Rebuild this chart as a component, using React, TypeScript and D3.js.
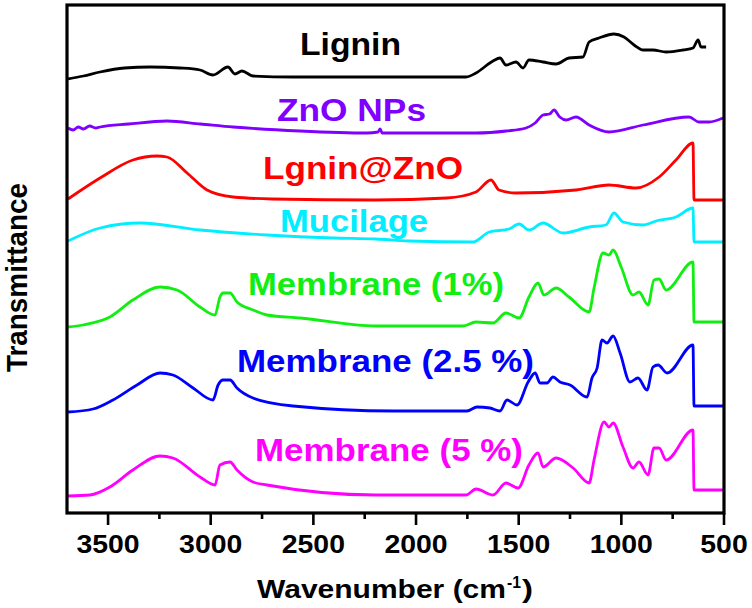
import React from "react";
import * as d3 from "d3";

type Pt = [number, number];

// Wavenumber (cm-1), transmittance (a.u., stacked)
const lignin: Pt[] = [
  [3695, 434], [3620, 437], [3539, 441], [3420, 445], [3296, 446], [3150, 445], [3052, 443], [2989, 438],
  [2916, 446], [2882, 439], [2848, 442], [2794, 437], [2600, 436], [2200, 436], [1756, 436],
  [1708, 440], [1625, 452], [1591, 455], [1562, 448], [1513, 451], [1479, 445], [1450, 453],
  [1381, 451], [1318, 449], [1255, 455], [1187, 456], [1157, 471], [1109, 475], [1036, 479],
  [987, 476], [938, 468], [894, 463], [846, 463], [782, 461], [699, 463], [651, 465], [626, 473],
  [612, 466], [587, 466],
];

const znoNPs: Pt[] = [
  [3695, 385], [3670, 383], [3645, 386], [3620, 384], [3590, 387], [3560, 385], [3539, 386],
  [3400, 389], [3213, 392], [3050, 389], [2891, 386], [2565, 382], [2239, 380], [2185, 381],
  [2175, 384], [2165, 380], [2034, 380], [1708, 380], [1560, 382], [1464, 385], [1420, 390],
  [1381, 398], [1350, 399], [1328, 403], [1300, 396], [1269, 393], [1221, 396], [1157, 388],
  [1060, 381], [894, 388], [670, 396], [622, 391], [573, 391], [505, 395],
];

const lgninZnO: Pt[] = [
  [3695, 314], [3539, 335], [3379, 353], [3262, 357], [3213, 356], [3115, 340], [3018, 323],
  [2891, 316], [2700, 314], [2200, 313], [1850, 315], [1708, 321], [1635, 333], [1596, 323],
  [1513, 320], [1221, 323], [1060, 328], [928, 325], [816, 336], [734, 353], [651, 370],
  [646, 313], [500, 313],
];

const mucilage: Pt[] = [
  [3695, 272], [3539, 285], [3344, 290], [3052, 283], [2726, 278], [2404, 275], [2195, 274],
  [2034, 272], [1722, 271], [1644, 281], [1547, 284], [1498, 289], [1450, 283], [1381, 290],
  [1284, 280], [1157, 286], [1075, 288], [1036, 300], [992, 291], [894, 288], [831, 292],
  [734, 296], [651, 305], [646, 271], [500, 271],
];

const membrane1: Pt[] = [
  [3695, 186], [3622, 188], [3491, 196], [3379, 213], [3247, 226], [3164, 223], [3052, 206],
  [2979, 198], [2955, 216], [2940, 220], [2906, 220], [2872, 211], [2794, 203], [2726, 198],
  [2565, 195], [2195, 187], [2034, 187], [1771, 187], [1708, 191], [1625, 190], [1562, 200],
  [1498, 195], [1450, 216], [1406, 230], [1377, 218], [1318, 225], [1255, 216], [1157, 201],
  [1133, 225], [1089, 260], [1060, 258], [1040, 263], [1001, 246], [943, 218], [914, 221],
  [870, 208], [841, 233], [816, 234], [782, 223], [651, 251], [646, 191], [500, 191],
];

const membrane25: Pt[] = [
  [3695, 101], [3573, 104], [3476, 113], [3359, 128], [3247, 140], [3184, 138], [3086, 125],
  [2989, 113], [2964, 128], [2940, 133], [2906, 133], [2872, 125], [2794, 115], [2599, 107],
  [2112, 102], [1752, 102], [1703, 106], [1640, 105], [1591, 102], [1557, 113], [1508, 108],
  [1454, 131], [1420, 140], [1396, 130], [1362, 130], [1333, 136], [1299, 131], [1250, 128],
  [1167, 116], [1143, 135], [1118, 145], [1094, 173], [1070, 170], [1040, 177], [1006, 160],
  [958, 131], [919, 135], [875, 123], [846, 146], [821, 148], [777, 140], [651, 168],
  [646, 107], [500, 107],
];

const membrane5: Pt[] = [
  [3695, 17], [3588, 18], [3491, 26], [3379, 43], [3247, 57], [3184, 55], [3052, 36],
  [2979, 28], [2955, 48], [2906, 51], [2872, 43], [2794, 31], [2726, 28], [2195, 18],
  [1756, 18], [1708, 24], [1625, 18], [1562, 30], [1503, 25], [1450, 48], [1406, 60],
  [1381, 46], [1318, 55], [1235, 45], [1157, 30], [1133, 53], [1084, 91], [1060, 86],
  [1040, 90], [992, 66], [943, 45], [914, 51], [870, 38], [841, 65], [816, 65], [782, 53],
  [651, 83], [646, 23], [500, 23],
];

const seriesNames = ["Lignin", "ZnO NPs", "Lgnin@ZnO", "Mucilage", "Membrane (1%)", "Membrane (2.5 %)", "Membrane (5 %)"];
const seriesData = [lignin, znoNPs, lgninZnO, mucilage, membrane1, membrane25, membrane5];
const seriesColors = ["#000000", "#8000ff", "#ff0000", "#00eeff", "#11ee11", "#0000ff", "#ff00ff"];

const majorTicks = [3500, 3000, 2500, 2000, 1500, 1000, 500];
const minorTicks = [3250, 2750, 2250, 1750, 1250, 750];

// label placement: [x start, baseline, width]
const labelBoxes: [number, number, number][] = [
  [300, 55, 101],
  [277, 121, 149],
  [263, 179, 200],
  [280, 232, 148],
  [248, 295, 256],
  [237, 372, 297],
  [255, 461, 268],
];

const L = 67, R = 724, T = 5, B = 513;

export default function App() {
  const x = d3.scaleLinear().domain([3700, 500]).range([L, R]);
  const y = d3.scaleLinear().domain([0, 508]).range([B, T]);
  const line = d3
    .line<Pt>()
    .x((d) => x(d[0]))
    .y((d) => y(d[1]))
    .curve(d3.curveMonotoneX);
  const font = "'Liberation Sans', Arial, sans-serif";

  return (
    <svg
      width={752}
      height={608}
      style={{ position: "absolute", left: 0, top: 0, background: "#fff" }}
      fontFamily={font}
      fontWeight="bold"
    >
      <rect x={0} y={0} width={752} height={608} fill="#fff" />
      {seriesData.map((d, i) => (
        <path key={i} d={line(d) || ""} fill="none" stroke={seriesColors[i]} strokeWidth={2.8} strokeLinejoin="round" />
      ))}
      {seriesNames.map((n, i) => (
        <text
          key={n}
          x={labelBoxes[i][0]}
          y={labelBoxes[i][1]}
          fontSize={32}
          fill={seriesColors[i]}
          textLength={labelBoxes[i][2]}
          lengthAdjust="spacingAndGlyphs"
        >
          {n}
        </text>
      ))}
      <rect x={L} y={T} width={R - L} height={B - T} fill="none" stroke="#000" strokeWidth={3.2} />
      {majorTicks.map((t) => (
        <g key={t}>
          <line x1={x(t)} x2={x(t)} y1={B} y2={B + 12} stroke="#000" strokeWidth={2.6} />
          <text
            x={x(t)}
            y={553}
            fontSize={25}
            textAnchor="middle"
            fill="#000"
            textLength={String(t).length * 15.8}
            lengthAdjust="spacingAndGlyphs"
          >
            {t}
          </text>
        </g>
      ))}
      {minorTicks.map((t) => (
        <line key={t} x1={x(t)} x2={x(t)} y1={B} y2={B + 6} stroke="#000" strokeWidth={2.6} />
      ))}
      <text x={257} y={598} fontSize={25} fill="#000" textLength={249} lengthAdjust="spacingAndGlyphs">
        Wavenumber (cm
      </text>
      <text x={507} y={588} fontSize={16} fill="#000" textLength={14} lengthAdjust="spacingAndGlyphs">
        -1
      </text>
      <text x={522} y={598} fontSize={25} fill="#000" textLength={11} lengthAdjust="spacingAndGlyphs">
        )
      </text>
      <text
        transform="translate(27,277.5) rotate(-90)"
        fontSize={30}
        textAnchor="middle"
        fill="#000"
        textLength={189}
        lengthAdjust="spacingAndGlyphs"
      >
        Transmittance
      </text>
    </svg>
  );
}
